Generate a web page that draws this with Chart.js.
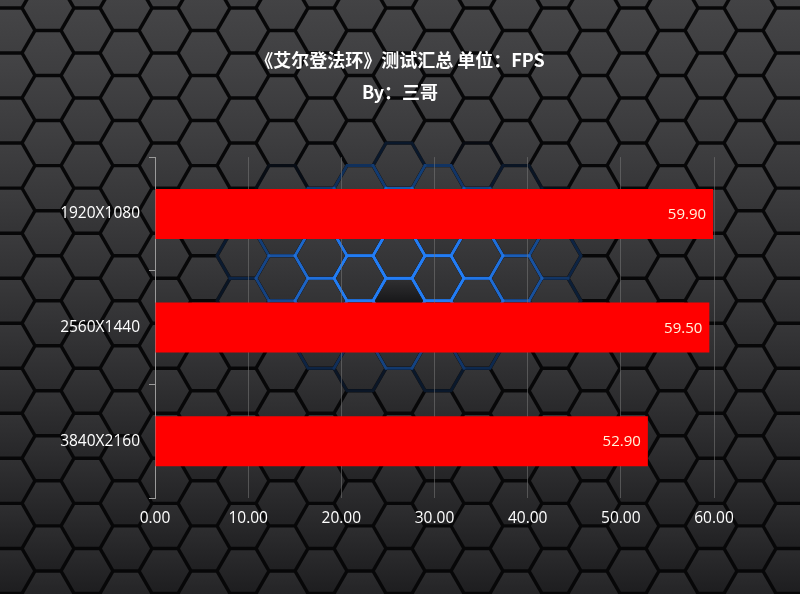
<!DOCTYPE html>
<html lang="zh">
<head>
<meta charset="utf-8">
<title>艾尔登法环 测试汇总</title>
<script src="https://cdn.jsdelivr.net/npm/chart.js@4/dist/chart.umd.min.js"></script>
<style>
  html, body { margin: 0; padding: 0; background: #1b1b1d; }
  #graphe { display: block; }
</style>
</head>
<body>
<canvas id="graphe" width="800" height="594"></canvas>
<script>
// données
const resolutions = ['1920X1080', '2560X1440', '3840X2160'];
const fps = [59.90, 59.50, 52.90];
const graduations = [0, 10, 20, 30, 40, 50, 60];
const titre = ['《艾尔登法环》测试汇总 单位：FPS', 'By：三哥'];

const POLICE = '"Segoe UI", "Open Sans", "Noto Sans", sans-serif';
const POLICE_TITRE = '"Noto Sans CJK SC", "Noto Sans", sans-serif';

// fond en nid d'abeille, avec la lueur bleue au milieu
function hexagone(ctx, cx, cy, r) {
  ctx.beginPath();
  for (let i = 0; i < 6; i++) {
    const a = Math.PI / 3 * i;
    const x = cx + r * Math.cos(a);
    const y = cy + r * Math.sin(a);
    if (i === 0) ctx.moveTo(x, y); else ctx.lineTo(x, y);
  }
  ctx.closePath();
}

function melange(a, b, t) {
  return a.map((v, i) => Math.round(v + (b[i] - v) * t));
}

const fondNidAbeille = {
  id: 'fondNidAbeille',
  beforeDraw(chart) {
    const ctx = chart.ctx;
    const W = chart.width, H = chart.height;
    const r = 26;
    const h = Math.sqrt(3) * r;
    const dx = 1.5 * r;
    const lueur = { x: 405, y: 268, rx: 170, ry: 105 };

    ctx.save();
    ctx.fillStyle = '#070708';
    ctx.fillRect(0, 0, W, H);

    const cellules = [];
    for (let col = -1; col * dx < W + r; col++) {
      const decal = (col % 2 === 0) ? 0 : h / 2;
      for (let row = -1; row * h < H + h; row++) {
        cellules.push({ x: 48 + col * dx, y: 8 + row * h + decal });
      }
    }

    // bords bleus autour du centre
    cellules.forEach(c => {
      const d = Math.hypot((c.x - lueur.x) / lueur.rx, (c.y - lueur.y) / lueur.ry);
      if (d < 1.1) {
        const a = Math.max(0, Math.min(1, (1.1 - d) * 1.2));
        ctx.strokeStyle = `rgba(35,125,245,${a})`;
        ctx.lineWidth = 3;
        hexagone(ctx, c.x, c.y, r);
        ctx.stroke();
      }
    });

    // remplissage des cellules, plus sombre vers le bas
    const haut = [62, 62, 64], bas = [29, 29, 31];
    cellules.forEach(c => {
      const t = Math.max(0, Math.min(1, (c.y - 40) / (H - 60)));
      const coul = melange(haut, bas, t);
      const clair = melange(coul, [90, 90, 92], 0.25);
      const g = ctx.createLinearGradient(0, c.y - h / 2, 0, c.y + h / 2);
      g.addColorStop(0, `rgb(${clair.join(',')})`);
      g.addColorStop(1, `rgb(${coul.join(',')})`);
      ctx.fillStyle = g;
      hexagone(ctx, c.x, c.y, r - 2);
      ctx.fill();
    });

    // cellule centrale plus sombre
    const gc = ctx.createLinearGradient(0, 270, 0, 305);
    gc.addColorStop(0, '#3a3a3c');
    gc.addColorStop(1, '#141416');
    ctx.fillStyle = gc;
    const centre = cellules.reduce((m, c) =>
      Math.hypot(c.x - 400, c.y - 288) < Math.hypot(m.x - 400, m.y - 288) ? c : m);
    hexagone(ctx, centre.x, centre.y, r - 2);
    ctx.fill();
    ctx.restore();
  }
};

// valeurs écrites au bout des barres
const etiquettes = {
  id: 'etiquettes',
  afterDatasetsDraw(chart) {
    const ctx = chart.ctx;
    const meta = chart.getDatasetMeta(0);
    ctx.save();
    ctx.font = '15px ' + POLICE;
    ctx.fillStyle = '#FFF4DC';
    ctx.textAlign = 'right';
    ctx.textBaseline = 'middle';
    meta.data.forEach((barre, i) => {
      ctx.fillText(fps[i].toFixed(2), barre.x - 7, barre.y + 1);
    });
    ctx.restore();
  }
};

new Chart(document.getElementById('graphe'), {
  type: 'bar',
  data: {
    labels: resolutions,
    datasets: [{
      data: fps,
      backgroundColor: '#FF0000',
      borderWidth: 0,
      categoryPercentage: 1,
      barPercentage: 0.44,
    }],
  },
  options: {
    indexAxis: 'y',
    responsive: false,
    animation: false,
    layout: { padding: 0 },
    plugins: {
      legend: { display: false },
      tooltip: { enabled: false },
      title: {
        display: true,
        text: titre,
        color: '#FFFFFF',
        font: { family: POLICE_TITRE, size: 18, weight: 'bold', lineHeight: 1.78 },
        padding: { top: 44, bottom: 49 },
      },
    },
    scales: {
      x: {
        min: graduations[0],
        max: graduations[graduations.length - 1],
        ticks: {
          stepSize: graduations[1] - graduations[0],
          color: '#FFFFFF',
          font: { family: POLICE, size: 15.5 },
          padding: 11,
          callback: v => Number(v).toFixed(2),
        },
        grid: { color: 'rgba(120,120,120,0.55)', lineWidth: 1, drawTicks: false },
        border: { display: false },
        afterFit: s => { s.height = 96; },
      },
      y: {
        ticks: {
          color: '#FFFFFF',
          font: { family: POLICE, size: 15.5 },
          padding: 9,
        },
        grid: {
          offset: true,
          drawOnChartArea: false,
          color: '#9a9a9a',
          tickLength: 6,
        },
        border: { display: true, color: '#9a9a9a', width: 1 },
        afterFit: s => { s.width = 155; },
      },
      // marge droite invisible, pour garder le titre centré sur la page
      yMarge: {
        position: 'right',
        display: true,
        ticks: { display: false },
        grid: { display: false },
        border: { display: false },
        afterFit: s => { s.width = 86; },
      },
    },
  },
  plugins: [fondNidAbeille, etiquettes],
});
</script>
</body>
</html>
